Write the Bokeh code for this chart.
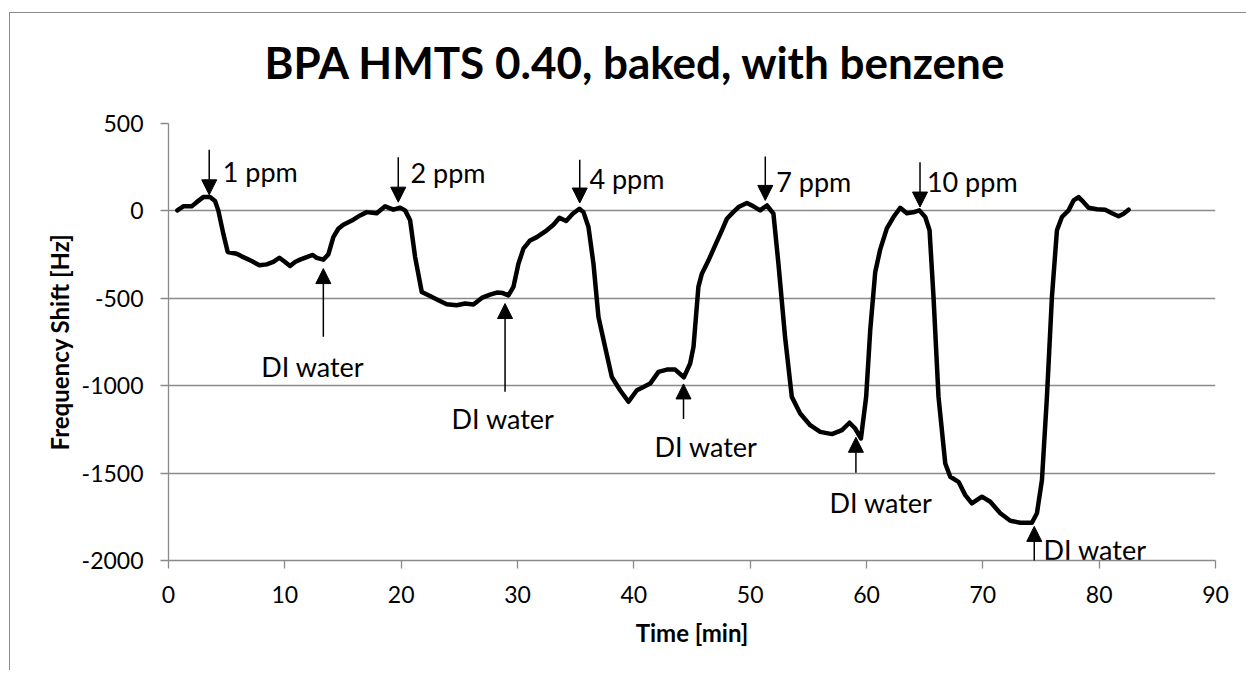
from bokeh.plotting import figure
from bokeh.models import Range1d, Arrow, NormalHead, ColumnDataSource, FixedTicker
from bokeh.core.properties import value
from bokeh.embed import file_html
from bokeh.resources import INLINE

# ---- data ----
time_min = [0.76, 1.27, 1.99, 2.42, 2.99, 3.57, 4.0, 4.28, 4.71, 5.09, 5.86, 6.29, 7.15, 7.81,
            8.44, 9.01, 9.53, 10.02, 10.45, 10.88, 11.31, 11.88, 12.40, 12.74, 13.31, 13.74,
            14.17, 14.60, 15.03, 15.89, 16.47, 17.04, 17.90, 18.62, 19.33, 19.91, 20.34, 20.77,
            21.2, 21.77, 22.48, 23.2, 23.92, 24.78, 25.49, 26.21, 26.93, 27.64, 28.22, 28.74,
            29.22, 29.65, 30.08, 30.51, 31.08, 31.66, 32.52, 33.09, 33.60, 34.18, 34.75, 35.32,
            35.67, 36.10, 36.53, 36.96, 37.53, 38.11, 38.82, 39.54, 40.26, 40.83, 41.40, 42.12,
            42.84, 43.55, 44.30, 44.84, 45.13, 45.55, 45.85, 46.42, 46.99, 47.57, 48.0, 48.5,
            49.0, 49.72, 50.28, 50.86, 51.44, 52.0, 52.43, 53.0, 53.58, 54.30, 55.16, 56.02,
            57.03, 57.89, 58.54, 59.03, 59.52, 59.97, 60.32, 60.75, 61.18, 61.75, 62.32, 62.90,
            63.47, 64.0, 64.54, 65.05, 65.42, 65.76, 66.19, 66.77, 67.20, 67.91, 68.49, 69.06,
            69.92, 70.64, 71.50, 72.36, 73.22, 74.22, 74.65, 75.08, 75.51, 75.94, 76.37, 76.80,
            77.37, 77.80, 78.23, 78.66, 79.09, 79.81, 80.52, 81.10, 81.67, 82.10, 82.53]
shift_hz = [3, 26, 26, 50, 79, 79, 56, 3, -130, -235, -245, -260, -287, -311,
            -306, -292, -268, -292, -315, -292, -279, -264, -252, -269, -279, -249,
            -150, -102, -79, -50, -26, -7, -13, 26, 7, 18, 3, -54,
            -264, -464, -487, -511, -534, -540, -530, -536, -498, -479, -467, -470,
            -483, -435, -302, -216, -169, -150, -111, -79, -39, -58, -16, 12,
            -7, -92, -302, -607, -778, -950, -1026, -1092, -1026, -1007, -988, -921,
            -908, -908, -952, -873, -778, -435, -359, -283, -197, -111, -45, -10,
            22, 45, 26, 3, 31, -16, -302, -721, -1064, -1159, -1226, -1264,
            -1277, -1254, -1212, -1245, -1302, -1064, -683, -350, -220, -100, -35, 18,
            -13, -8, 3, -35, -111, -492, -1064, -1445, -1521, -1550, -1626, -1673,
            -1635, -1664, -1730, -1773, -1784, -1784, -1730, -1540, -1064, -492, -111, -35,
            3, 60, 79, 50, 18, 9, 7, -13, -31, -16, 7]

x_ticks = [0, 10, 20, 30, 40, 50, 60, 70, 80, 90]
y_ticks = [-2000, -1500, -1000, -500, 0, 500]
y_tick_labels = ["-2000", "-1500", "-1000", "-500", "0", "500"]

ppm_labels = ["1 ppm", "2 ppm", "4 ppm", "7 ppm", "10 ppm"]
ppm_arrow_x = [3.5, 19.75, 35.35, 51.3, 64.6]
ppm_arrow_top = [350, 307, 292, 311, 279]
ppm_arrow_tip = [92, 50, 45, 60, 22]
ppm_text_x = [4.66, 20.8, 36.18, 52.24, 65.19]
ppm_text_y = [227, 217, 184, 169, 170]

di_labels_c = ["DI water", "DI water", "DI water", "DI water"]
di_text_x_c = [12.4, 28.75, 46.2, 61.24]
di_text_y_c = [-889, -1190, -1346, -1668]
di_labels_l = ["DI water"]
di_text_x_l = [75.22]
di_text_y_l = [-1935]
di_arrow_x = [13.31, 28.93, 44.27, 59.09, 74.42]
di_arrow_bottom = [-720, -1035, -1191, -1498, -2016]
di_arrow_tip = [-330, -530, -990, -1295, -1805]

title_text = "BPA HMTS 0.40, baked, with benzene"
x_title = "Time [min]"
y_title = "Frequency Shift [Hz]"

GRAY = "#8a8a8a"
FONT = "Lato"

W, H = 1246, 670
p = figure(width=W, height=H, output_backend="svg", toolbar_location=None,
           x_range=Range1d(0, 90), y_range=Range1d(-2000, 500),
           min_border_left=168, min_border_right=31, min_border_top=123, min_border_bottom=110)
p.background_fill_color = "white"
p.border_fill_color = None
p.outline_line_color = None
# chart-area border (left and top edges) drawn as the element background
p.styles = {"background": ("linear-gradient(#8a8a8a, #8a8a8a) 9px 12px / 100% 1px no-repeat, "
                           "linear-gradient(#8a8a8a, #8a8a8a) 9px 12px / 1px 100% no-repeat, #ffffff")}

# title
p.title.text = title_text
p.title.align = "left"
p.title.offset = 96
p.title.vertical_align = "top"
p.title.standoff = 68
p.title.text_font = FONT
p.title.text_font_style = "bold"
p.title.text_font_size = "44px"
p.title.text_color = "black"

# axes
for ax in (p.xaxis[0], p.yaxis[0]):
    ax.axis_line_color = GRAY
    ax.axis_line_width = 1.3
    ax.major_tick_line_color = GRAY
    ax.major_tick_line_width = 1.3
    ax.major_tick_out = 8
    ax.major_tick_in = 0
    ax.minor_tick_line_color = None
    ax.major_label_text_font = FONT
    ax.major_label_text_font_size = "23px"
    ax.major_label_text_color = "black"
    ax.axis_label_text_font = FONT
    ax.axis_label_text_font_style = "bold"
    ax.axis_label_text_font_size = "24px"
    ax.axis_label_text_color = "black"

p.xaxis.ticker = FixedTicker(ticks=x_ticks)
p.yaxis.ticker = FixedTicker(ticks=y_ticks)
p.yaxis.major_label_overrides = {float(v): s for v, s in zip(y_ticks, y_tick_labels)}
p.xaxis.axis_label = x_title
p.yaxis.axis_label = y_title
p.xaxis.major_label_standoff = 17
p.yaxis.major_label_standoff = 17
p.xaxis.axis_label_standoff = 12
p.yaxis.axis_label_standoff = 5

p.xgrid.grid_line_color = None
p.ygrid.grid_line_color = GRAY
p.ygrid.grid_line_width = 1.3

# curve
p.line(time_min, shift_hz, line_color="black", line_width=4.5, line_join="round", line_cap="round")

# arrows
ppm_src = ColumnDataSource(dict(x=ppm_arrow_x, y0=ppm_arrow_top, y1=ppm_arrow_tip))
p.add_layout(Arrow(source=ppm_src, x_start="x", y_start="y0", x_end="x", y_end="y1",
                   line_color="black", line_width=1.5,
                   end=NormalHead(size=15, fill_color="black", line_color="black", line_width=1)))
di_src = ColumnDataSource(dict(x=di_arrow_x, y0=di_arrow_bottom, y1=di_arrow_tip))
p.add_layout(Arrow(source=di_src, x_start="x", y_start="y0", x_end="x", y_end="y1",
                   line_color="black", line_width=1.5,
                   end=NormalHead(size=15, fill_color="black", line_color="black", line_width=1)))

# annotation texts
p.text(ppm_text_x, ppm_text_y, text=ppm_labels, text_font=value(FONT), text_font_size="27px",
       text_align="left", text_baseline="alphabetic", text_color="black")
p.text(di_text_x_c, di_text_y_c, text=di_labels_c, text_font=value(FONT), text_font_size="27px",
       text_align="center", text_baseline="alphabetic", text_color="black")
p.text(di_text_x_l, di_text_y_l, text=di_labels_l, text_font=value(FONT), text_font_size="27px",
       text_align="left", text_baseline="alphabetic", text_color="black")

open("out.html", "w").write(file_html(p, INLINE))
